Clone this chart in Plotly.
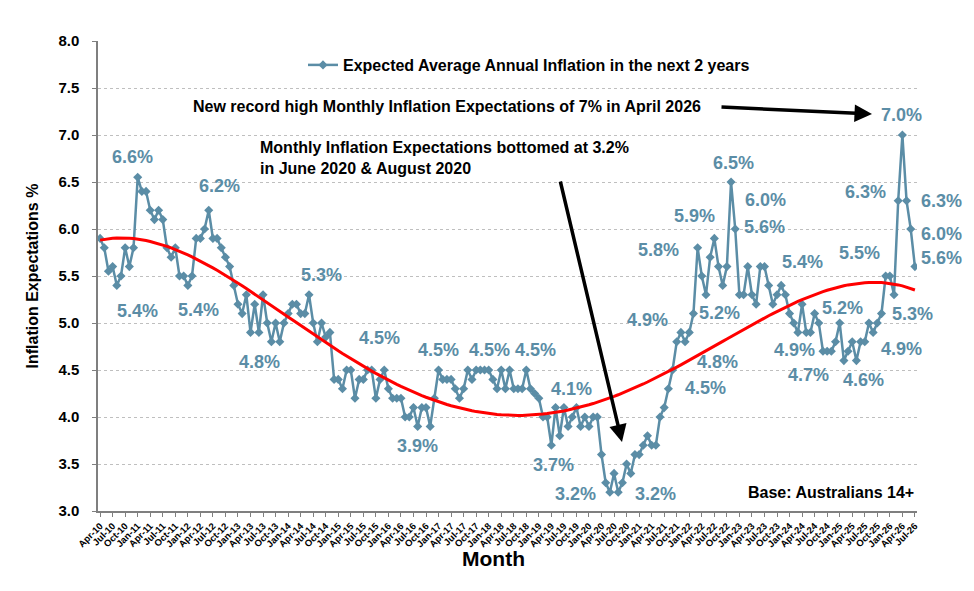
import numpy as np
import pandas as pd
import plotly.graph_objects as go

# monthly survey months, Apr-10 .. Jul-26
months = pd.date_range("2010-04-01", "2026-07-01", freq="MS").strftime("%b-%y").tolist()

# Expected average annual inflation in the next 2 years (%)
expectations = [
    5.9, 5.8, 5.55, 5.6, 5.4, 5.5, 5.8, 5.6, 5.8, 6.55,
    6.4, 6.4, 6.2, 6.1, 6.2, 6.1, 5.8, 5.7, 5.8, 5.5,
    5.5, 5.4, 5.5, 5.9, 5.9, 6.0, 6.2, 5.9, 5.9, 5.8,
    5.7, 5.6, 5.4, 5.2, 5.1, 5.3, 4.9, 5.2, 4.9, 5.3,
    5.0, 4.8, 5.0, 4.8, 5.0, 5.1, 5.2, 5.2, 5.1, 5.1,
    5.3, 5.0, 4.8, 5.0, 4.85, 4.9,
    4.4, 4.4, 4.3, 4.5, 4.5, 4.2, 4.4, 4.4, 4.5, 4.5,
    4.2, 4.4, 4.5, 4.3, 4.2, 4.2, 4.2, 4.0, 4.0, 4.1,
    3.9, 4.1, 4.1, 3.9, 4.2, 4.5, 4.4, 4.4, 4.4, 4.3,
    4.2, 4.3, 4.5, 4.4, 4.5, 4.5, 4.5, 4.5, 4.4, 4.3,
    4.5, 4.3, 4.5, 4.3, 4.3, 4.3, 4.5, 4.3, 4.25, 4.2,
    4.0, 4.0, 3.7, 4.1, 3.8, 4.1, 3.9, 4.0, 4.1, 3.9,
    4.0, 3.9, 4.0, 4.0, 3.6, 3.3, 3.2, 3.4, 3.2, 3.3,
    3.5, 3.4, 3.6, 3.6, 3.7, 3.8, 3.7, 3.7, 4.0, 4.1,
    4.3, 4.5, 4.8, 4.9, 4.8, 4.9, 5.1, 5.8, 5.5, 5.3,
    5.7, 5.9, 5.6, 5.4, 5.6, 6.5, 6.0, 5.3, 5.3, 5.6,
    5.3, 5.2, 5.6, 5.6, 5.4, 5.2, 5.3, 5.4, 5.3, 5.1,
    5.0, 4.9, 5.2, 4.9, 4.9, 5.1, 5.0, 4.7, 4.7, 4.7,
    4.8, 5.0, 4.6, 4.7, 4.8, 4.6, 4.8, 4.8, 5.0, 4.9,
    5.0, 5.1, 5.5, 5.5, 5.3, 6.3, 7.0, 6.3, 6.0, 5.6,
]

# data labels: which month they belong to, and the text shown
label_months = ["Jan-11", "Aug-10", "Jan-12", "Jun-12", "Nov-13", "Jun-14",
                "Aug-15", "Nov-16", "Jan-17", "Dec-17", "Oct-18", "Jul-19",
                "Apr-19", "Jun-20", "Aug-20", "Nov-21", "Mar-22", "Jul-22",
                "Nov-22", "Dec-22", "Mar-23", "May-22", "Dec-21", "Sep-21",
                "Nov-23", "Mar-24", "Oct-24", "Jan-25", "May-25", "Dec-25",
                "Mar-26", "Apr-26", "May-26", "Jun-26", "Jul-26", "Feb-26",
                "Sep-25"]
label_texts = ["6.6%", "5.4%", "5.4%", "6.2%", "4.8%", "5.3%",
               "4.5%", "3.9%", "4.5%", "4.5%", "4.5%", "4.1%",
               "3.7%", "3.2%", "3.2%", "4.9%", "5.8%", "5.9%",
               "6.5%", "6.0%", "5.6%", "5.2%", "4.8%", "4.5%",
               "5.4%", "4.9%", "4.7%", "5.2%", "4.6%", "5.5%",
               "6.3%", "7.0%", "6.3%", "6.0%", "5.6%", "5.3%",
               "4.9%"]
# pixel offsets of each label from its point
label_shift = [(-5, 20), (21, -26), (11, -25), (11, 24), (-20, -20), (12, 20),
               (12, 32), (-13, -20), (0, 20), (5, 20), (9, 20), (8, 19),
               (2, -20), (-34, -2), (37, -2), (-33, 12), (-39, -2), (-20, 22),
               (2, 19), (30, 29), (17, 40), (14, -18), (32, -20), (33, -18),
               (21, 23), (-3, -18), (-19, -24), (3, 15), (7, -19), (-26, 23),
               (-33, 9), (-1, 20), (35, 0), (31, -5), (27, 9), (18, -19),
               (28, -17)]

blue = "#5B8DA6"
font = "Arial, Liberation Sans, sans-serif"

# polynomial trend (order 4), like the spreadsheet trendline
idx = np.arange(len(months))
trend = np.polynomial.Polynomial.fit(idx, expectations, 4)(idx)

fig = go.Figure()
fig.add_trace(go.Scatter(x=months, y=expectations, mode="lines+markers",
                         name="Expected Average Annual Inflation in the next 2 years",
                         line=dict(color=blue, width=2.5),
                         marker=dict(symbol="diamond", size=7, color=blue)))
fig.add_trace(go.Scatter(x=months, y=trend, mode="lines", line=dict(color="#FF0000", width=3),
                         showlegend=False, hoverinfo="skip"))

for m, t, (dx, dy) in zip(label_months, label_texts, label_shift):
    fig.add_annotation(x=m, y=expectations[months.index(m)], text=t, showarrow=False,
                       xshift=dx, yshift=dy,
                       font=dict(family=font, size=18, color=blue, weight="bold"))

L, R, T, B = 98, 917, 41, 511


def paper(x, y):
    return (x - L) / (R - L), (B - y) / (B - T)


# text notes
notes = [
    ("New record high Monthly Inflation Expectations of 7% in April 2026", 191, 107, "left"),
    ("Monthly Inflation Expectations bottomed at 3.2%<br>in June 2020 & August 2020", 258, 158, "left"),
    ("Base: Australians 14+", 916, 492, "right"),
]
for t, x, y, anchor in notes:
    px, py = paper(x, y)
    fig.add_annotation(x=px, y=py, xref="paper", yref="paper", text=t, showarrow=False,
                       xanchor=anchor, yanchor="middle", align="left",
                       font=dict(family=font, size=16, color="black", weight="bold"))

# arrows (tip, tail offset)
for tx, ty, ax, ay in [(872, 114, -152, -7), (622, 442, -62, -262)]:
    px, py = paper(tx, ty)
    fig.add_annotation(x=px, y=py, xref="paper", yref="paper", text="", showarrow=True,
                       ax=ax, ay=ay, arrowhead=2, arrowsize=1, arrowwidth=3.5,
                       arrowcolor="black")

# axis titles
px, py = paper(21, 276)
fig.add_annotation(x=px, y=py, xref="paper", yref="paper", text="Inflation Expectations %",
                   textangle=-90, showarrow=False,
                   font=dict(family=font, size=16, color="black", weight="bold"))
px, py = paper(493, 572)
fig.add_annotation(x=px, y=py, xref="paper", yref="paper", text="Month", showarrow=False,
                   font=dict(family=font, size=21, color="black", weight="bold"))

lx, ly = paper(303, 65)
fig.update_layout(
    width=974, height=591,
    margin=dict(l=L, r=974 - R, t=T, b=591 - B),
    plot_bgcolor="white", paper_bgcolor="white",
    font=dict(family=font, color="black"),
    legend=dict(x=lx, y=ly, xanchor="left", yanchor="middle", bgcolor="rgba(0,0,0,0)",
                font=dict(family=font, size=16, color="black", weight="bold")),
)
fig.update_xaxes(type="category", range=[-0.5, len(months) - 0.5],
                 tickvals=months[::3], ticktext=months[::3], tickangle=-45,
                 tickfont=dict(family=font, size=9.5, color="black", weight="bold"),
                 showgrid=False, showline=True, linecolor="#7F7F7F", linewidth=1.5,
                 ticks="outside", ticklen=4, tickcolor="#7F7F7F")
fig.update_yaxes(range=[3, 8], dtick=0.5, tickformat=".1f",
                 tickfont=dict(family=font, size=15, color="black", weight="bold"),
                 showgrid=True, gridcolor="#BFBFBF", griddash="dot", gridwidth=1,
                 showline=True, linecolor="#7F7F7F", linewidth=1.5,
                 ticks="outside", ticklen=4, tickcolor="#7F7F7F", ticklabelstandoff=10,
                 zeroline=False)

fig.write_html("out.html", config={"displayModeBar": False},
               post_script="document.body.style.margin='0';")
